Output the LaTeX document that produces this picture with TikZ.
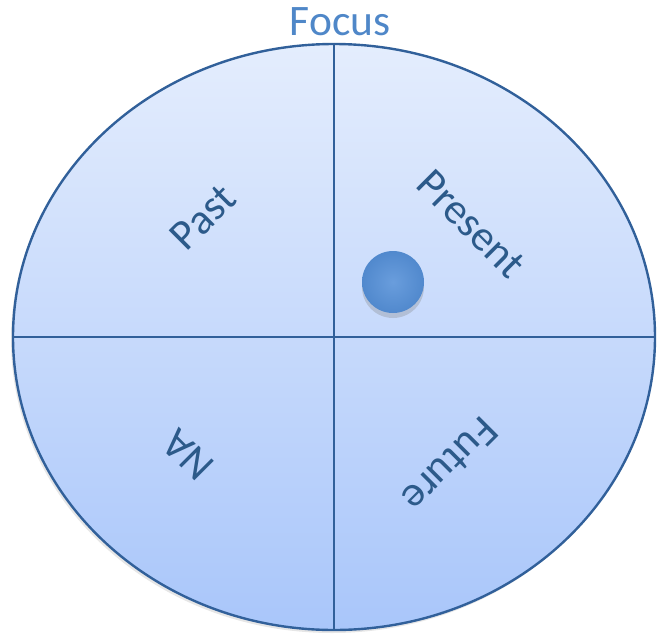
\documentclass[tikz,border=0pt]{standalone}
\usepackage{fontspec}
\setmainfont{Carlito}
\usetikzlibrary{shapes.geometric, shadows}

\definecolor{rim}{HTML}{31609A}
\definecolor{labelblue}{HTML}{2C5A8A}
\definecolor{toptint}{HTML}{E4EDFD}
\definecolor{bottint}{HTML}{A9C6FA}
\definecolor{titleblue}{HTML}{4F87C8}
\definecolor{ballblue}{HTML}{5590D8}

\begin{document}
\begin{tikzpicture}[x=1pt, y=-1pt,
  quarter/.style={text=labelblue, font=\fontsize{43}{43}\selectfont, inner sep=0pt}]
\useasboundingbox (0,0) rectangle (657,633);

\node[ellipse, draw=rim, line width=2.4pt, minimum width=642pt, minimum height=586pt, inner sep=0pt,
  top color=toptint, bottom color=bottint,
  drop shadow={opacity=0.2, shadow xshift=-2pt, shadow yshift=-3pt}] (focus) at (334,337) {};
\draw[rim, line width=2pt] (focus.north) -- (focus.south);
\draw[rim, line width=2pt] (focus.west) -- (focus.east);

\node[text=titleblue, font=\fontsize{43.5}{44}\selectfont, inner sep=0pt] (title) at (340,22) {Focus};

\node[quarter, rotate=45] (past) at (203,217) {Past};
\node[quarter, rotate=-45] (present) at (471,224) {Present};
\node[quarter, rotate=135] (na) at (188,455) {NA};
\node[quarter, rotate=-135] (future) at (450,465) {Future};

\node[circle, minimum size=62pt, inner sep=0pt, shading=radial,
  inner color=ballblue!88!white, outer color=ballblue!95!black,
  drop shadow={opacity=0.3, shadow xshift=0pt, shadow yshift=-5pt}] (dot) at (393,282) {};
\end{tikzpicture}
\end{document}
